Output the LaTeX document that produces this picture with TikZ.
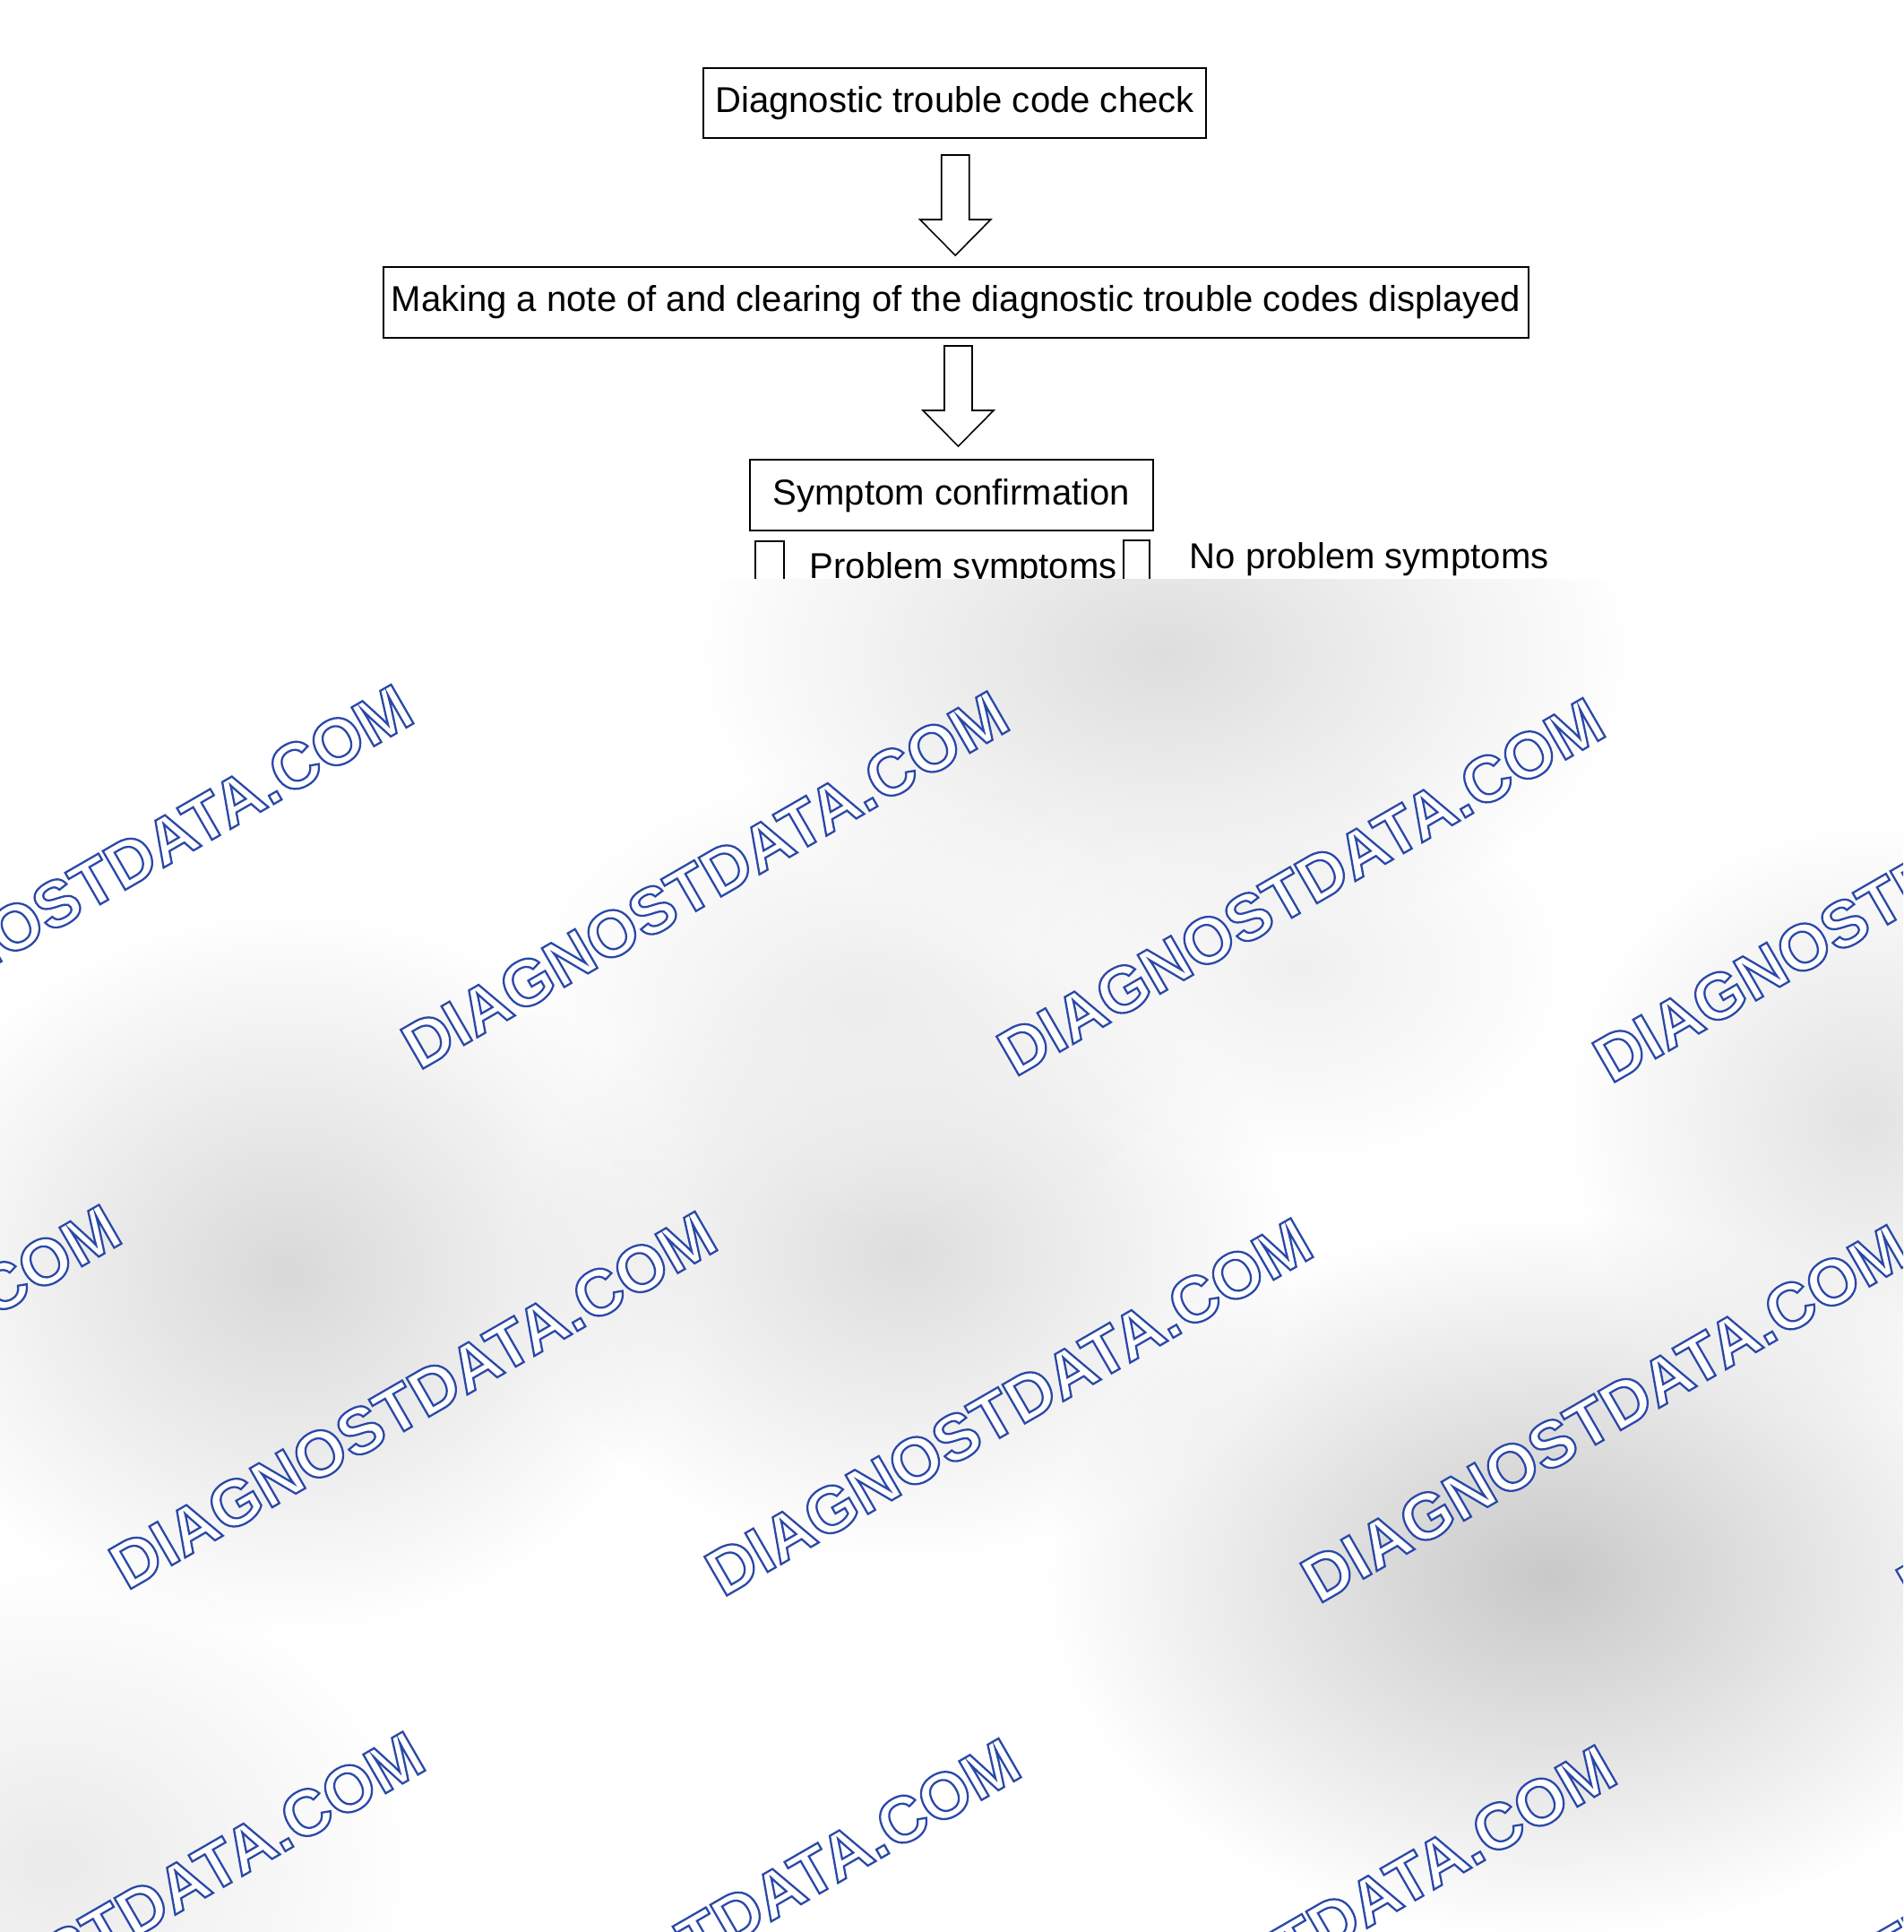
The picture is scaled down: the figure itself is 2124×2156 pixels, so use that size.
\documentclass[tikz,border=0pt]{standalone}
\usepackage{fontspec}
\setmainfont{Liberation Sans}
\usetikzlibrary{calc,fadings}

\newcommand\boxfont{\fontsize{11.4}{14}\selectfont}
\newcommand\wmfont{\fontsize{20.7}{24}\selectfont\bfseries}
% white letters with a blue outline
\newcommand\wmtext[1]{\special{pdf:literal 2 Tr 0.65 w 1 1 1 rg 0.165 0.282 0.659 RG}#1\special{pdf:literal 0 Tr 0 0 0 rg 0 0 0 RG}}

\tikzfading[name=blobfade, inner color=transparent!0, outer color=transparent!100]

\tikzset{
    box/.style={draw, line width=0.45pt, inner sep=0pt, font=\boxfont},
    hollow/.style={draw, line width=0.45pt, fill=white},
    label text/.style={anchor=base west, inner sep=0pt, font=\boxfont},
    wm/.style={rotate=30, inner sep=0pt, font=\wmfont, anchor=base east}
}

% hollow block arrow between two boxes
\newcommand\blockdown[3]{%
    \coordinate (m) at ($(#1.south)!.5!(#2.north)+(#3)$);
    \draw[hollow] ($(m)+(-15.5,-56)$) -- ($(m)+(-15.5,16)$) -- ($(m)+(-39.5,16)$)
        -- ($(m)+(0,56)$) -- ($(m)+(39.5,16)$) -- ($(m)+(15.5,16)$)
        -- ($(m)+(15.5,-56)$) -- cycle;
}

\begin{document}
\begin{tikzpicture}[x=0.1mm, y=-0.1mm]
    \useasboundingbox (0,0) rectangle (2124,2156);
    \fill[white] (0,0) rectangle (2124,2156);

    \node[box, minimum width=56.1mm, minimum height=7.8mm] (check) at (1065.5,115) {Diagnostic trouble code check};
    \node[box, minimum width=127.8mm, minimum height=7.9mm] (note) at (1067,337.5)
        {Making a note of and clearing of the diagnostic trouble codes displayed};
    \node[box, minimum width=45mm, minimum height=7.9mm, text height=3mm] (confirm) at (1062,552.5) {Symptom confirmation};

    \blockdown{check}{note}{0,3}
    \blockdown{note}{confirm}{5,-3}

    \draw[line width=0.45pt] (843,604) rectangle (875,720);
    \draw[line width=0.45pt] (1254,603) rectangle (1283,720);
    \node[label text] (prob) at (903,645) {Problem symptoms};
    \node[label text] (noprob) at (1327,634) {No problem symptoms};

    % grey cover with the watermark
    \begin{scope}
        \clip (0,646) rectangle (2124,2156);
        \fill[white] (0,646) rectangle (2124,2156);
        \foreach \cx/\cy/\rx/\ry/\dk in {1300/730/520/330/13, 320/1420/450/400/15,
                1010/1400/430/340/13, 1730/1760/560/400/21, 2080/1250/330/330/11,
                960/1120/380/260/7, 60/2080/400/330/8, 1450/1080/300/220/6}
            \fill[black!\dk, path fading=blobfade] (\cx,\cy) ellipse ({\rx} and {\ry});
        \foreach \i in {-1,...,4}
            \foreach \j in {0,...,2}
                \node[wm] (wm\i\j) at ({466.3+665*\i-326*\j},{804.5+7.5*\i+580.5*\j})
                    {\wmtext{DIAGNOSTDATA.COM}};
    \end{scope}
\end{tikzpicture}
\end{document}
